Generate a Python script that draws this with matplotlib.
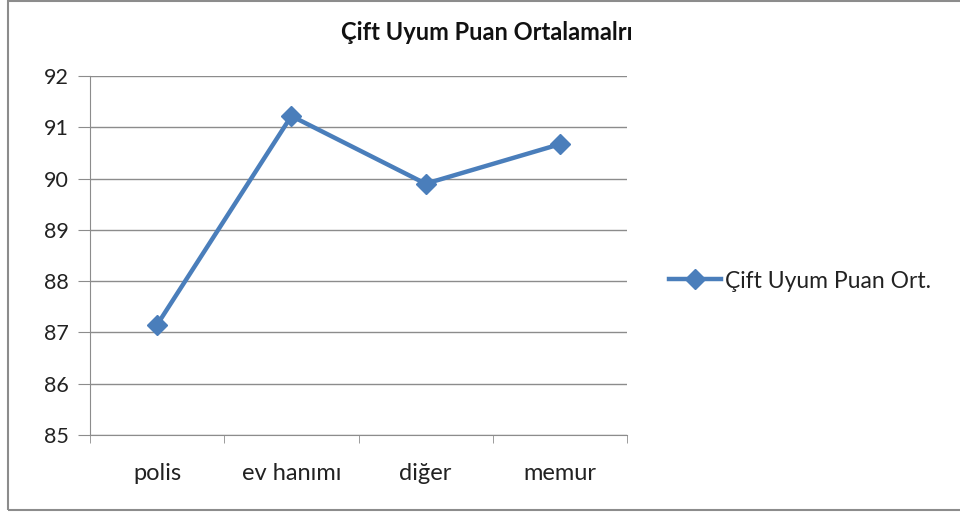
import matplotlib.pyplot as plt
from matplotlib.patches import Rectangle
from matplotlib.lines import Line2D

categories = ['polis', 'ev hanımı', 'diğer', 'memur']
values = [87.15, 91.22, 89.9, 90.67]
series_name = 'Çift Uyum Puan Ort.'
title = 'Çift Uyum Puan Ortalamalrı'

plt.rcParams['font.family'] = ['Lato', 'DejaVu Sans']
blue = '#4a7ebb'
grid = '#8c8c8c'

fig = plt.figure(figsize=(9.6, 5.16), dpi=100)
# outer chart border
fig.patches.append(Rectangle((8 / 960, 6 / 516), 1.2, 509 / 516, transform=fig.transFigure,
                             fill=False, edgecolor='#8c8c8c', linewidth=1.5))

ax = fig.add_axes([90 / 960, 1 - 435 / 516, 537 / 960, 359 / 516])
x = list(range(len(categories)))
ax.plot(x, values, color=blue, linewidth=3.2, marker='D', markersize=10,
        markerfacecolor=blue, markeredgecolor=blue, label=series_name)

ax.set_xlim(-0.5, len(categories) - 0.5)
ax.set_ylim(85, 92)
ax.set_yticks(range(85, 93))
ax.grid(axis='y', color=grid, linewidth=1)
ax.set_axisbelow(True)
ax.set_xticks(x)
ax.set_xticklabels(categories, fontsize=17, color='#222222')
ax.tick_params(axis='x', length=0, pad=20)
ax.set_xticks([-0.5, 0.5, 1.5, 2.5, 3.5], minor=True)
ax.tick_params(axis='x', which='minor', length=6, color=grid, direction='out')
ax.tick_params(axis='y', labelsize=15.5, length=9, color=grid, pad=6, labelcolor='#222222')
for s in ['top', 'right']:
    ax.spines[s].set_visible(False)
ax.spines['left'].set_color(grid)
ax.spines['bottom'].set_color(grid)

fig.text(487 / 960, 1 - 33 / 516, title, ha='center', va='center',
         fontsize=17, fontweight='bold', color='#111111')

handle = Line2D([], [], color=blue, linewidth=3.2, marker='D', markersize=10)
fig.legend([handle], [series_name], loc='center left', bbox_to_anchor=(648 / 960, 1 - 281 / 516),
           frameon=False, fontsize=16.5, handlelength=2.3, handletextpad=0.15,
           labelcolor='#222222')

fig.savefig('out.png', dpi=100)
